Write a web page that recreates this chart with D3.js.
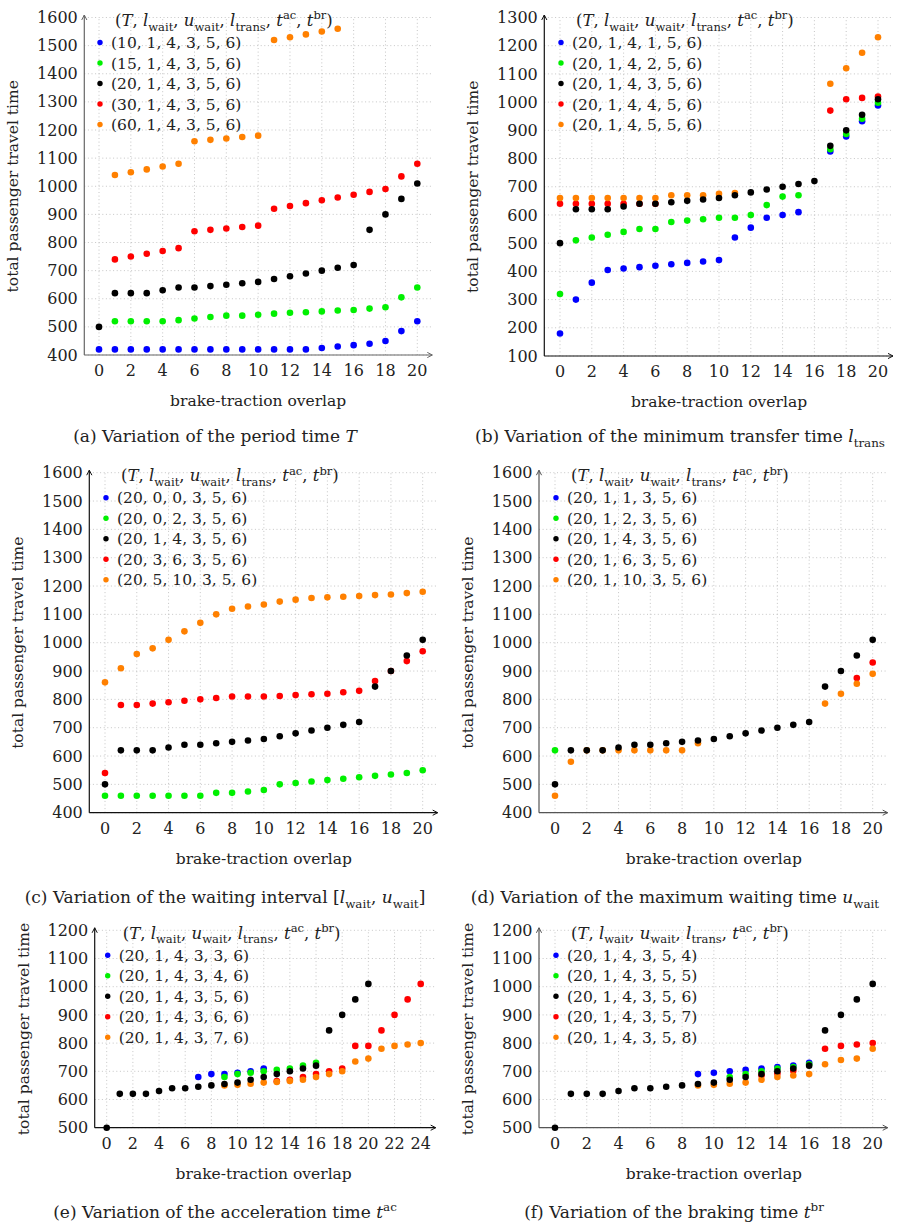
<!DOCTYPE html>
<html>
<head>
<meta charset="utf-8">
<script src="https://cdn.jsdelivr.net/npm/d3@7"></script>
<style>
  body { margin: 0; background: #fff; }
  text { font-family: "DejaVu Serif", "Liberation Serif", serif; fill: #222; }
</style>
</head>
<body>
<div id="chart"></div>
<script>
// x positions (brake-traction overlap)
const overlap20 = [0,1,2,3,4,5,6,7,8,9,10,11,12,13,14,15,16,17,18,19,20];
const overlap24 = [0,1,2,3,4,5,6,7,8,9,10,11,12,13,14,15,16,17,18,19,20,21,22,23,24];

// the reference setting (20,1,4,3,5,6) shows up in every panel
const baseline = [500,620,620,620,630,640,640,645,650,655,660,670,680,690,700,710,720,845,900,955,1010];

// (a) period time T
const aT10 = [420,420,420,420,420,420,420,420,420,420,420,420,420,420,425,430,435,440,450,485,520];
const aT15 = [null,520,520,520,520,524,530,535,540,540,543,547,550,552,555,558,560,565,570,605,640];
const aT30 = [null,740,750,760,770,780,840,845,850,855,860,920,930,940,950,960,970,980,990,1035,1080];
const aT60 = [null,1040,1050,1060,1070,1080,1160,1165,1170,1175,1180,1520,1530,1540,1550,1560,null,null,null,null,null];
const legendA = ["(10, 1, 4, 3, 5, 6)","(15, 1, 4, 3, 5, 6)","(20, 1, 4, 3, 5, 6)","(30, 1, 4, 3, 5, 6)","(60, 1, 4, 3, 5, 6)"];

// (b) minimum transfer time
const bL1 = [180,300,360,405,410,415,420,425,430,435,440,520,555,590,600,610,null,825,878,932,988];
const bL2 = [320,510,520,530,540,550,550,575,580,585,590,590,600,635,665,670,null,833,887,941,998];
const bL4 = [640,640,640,640,640,640,640,null,null,null,null,null,null,null,null,null,null,970,1010,1015,1020];
const bL5 = [660,660,660,660,660,660,660,670,670,670,675,678,null,null,null,null,null,1065,1120,1175,1230];
const legendB = ["(20, 1, 4, 1, 5, 6)","(20, 1, 4, 2, 5, 6)","(20, 1, 4, 3, 5, 6)","(20, 1, 4, 4, 5, 6)","(20, 1, 4, 5, 5, 6)"];

// (c) waiting interval
const cW00 = [];
const cW02 = [460,460,460,460,460,460,460,470,470,475,480,500,505,510,515,520,525,530,535,540,550];
const cW36 = [540,780,780,785,790,795,800,805,810,810,810,812,815,818,820,825,830,865,900,935,970];
const cW510 = [860,910,960,980,1010,1040,1070,1100,1120,1128,1135,1145,1152,1158,1160,1162,1165,1168,1170,1175,1180];
const legendC = ["(20, 0, 0, 3, 5, 6)","(20, 0, 2, 3, 5, 6)","(20, 1, 4, 3, 5, 6)","(20, 3, 6, 3, 5, 6)","(20, 5, 10, 3, 5, 6)"];

// (d) maximum waiting time
const dU1 = [];
const dU2 = [620];
const dU6 = [null,null,null,null,null,null,null,null,null,null,null,null,null,null,null,null,null,null,null,875,930];
const dU10 = [460,580,620,620,620,620,620,620,620,645,null,null,null,null,null,null,null,785,820,855,890];
const legendD = ["(20, 1, 1, 3, 5, 6)","(20, 1, 2, 3, 5, 6)","(20, 1, 4, 3, 5, 6)","(20, 1, 6, 3, 5, 6)","(20, 1, 10, 3, 5, 6)"];

// (e) acceleration time
const eA3 = [null,null,null,null,null,null,null,680,690,690,695,700,710];
const eA4 = [null,null,null,null,null,null,null,null,null,680,690,695,700,705,710,720,730];
const eA6 = [null,null,null,null,null,null,null,null,null,null,null,null,null,665,670,680,690,700,710,790,790,845,900,955,1010];
const eA7 = [null,null,null,null,null,null,null,null,null,650,652,656,660,662,666,670,680,690,700,735,745,780,790,795,800];
const legendE = ["(20, 1, 4, 3, 3, 6)","(20, 1, 4, 3, 4, 6)","(20, 1, 4, 3, 5, 6)","(20, 1, 4, 3, 6, 6)","(20, 1, 4, 3, 7, 6)"];

// (f) braking time
const fB4 = [null,null,null,null,null,null,null,null,null,690,695,700,705,710,715,720,730];
const fB5 = [null,null,null,null,null,null,null,null,null,null,null,680,690,700,710,715,725];
const fB7 = [null,null,null,null,null,null,null,null,null,null,null,null,null,685,692,702,null,780,790,795,800];
const fB8 = [null,null,null,null,null,null,null,null,null,650,652,656,660,670,680,685,690,725,740,745,780];
const legendF = ["(20, 1, 4, 3, 5, 4)","(20, 1, 4, 3, 5, 5)","(20, 1, 4, 3, 5, 6)","(20, 1, 4, 3, 5, 7)","(20, 1, 4, 3, 5, 8)"];

const colors = ["#0000ff", "#00f000", "#000000", "#ff0000", "#ff8000"];

const panels = [
  { xs: overlap20, xr: [99, 417.3], yr: [355, 17.5], yd: [100, 1600], y0: 400, axisX: 84.3, axisColor: "#666",
    series: [aT10, aT15, baseline, aT30, aT60], legend: legendA, capX: 215, capY: 436,
    caption: [["(a) Variation of the period time "], ["T", "i"]] },
  { xs: overlap20, xr: [560, 878], yr: [356, 17.5], yd: [100, 1300], y0: 100, axisX: 544.3, axisColor: "#111",
    series: [bL1, bL2, baseline, bL4, bL5], legend: legendB, capX: 680, capY: 436,
    caption: [["(b) Variation of the minimum transfer time "], ["l", "i"], ["trans", "sub"]] },
  { xs: overlap20, xr: [105, 422.7], yr: [812.7, 472.7], yd: [400, 1600], y0: 400, axisX: 89.3, axisColor: "#111",
    series: [cW00, cW02, baseline, cW36, cW510], legend: legendC, capX: 225, capY: 897,
    caption: [["(c) Variation of the waiting interval ["], ["l", "i"], ["wait", "sub"], [", "], ["u", "i"], ["wait", "sub"], ["]"]] },
  { xs: overlap20, xr: [555, 872.7], yr: [812.7, 472.7], yd: [400, 1600], y0: 400, axisX: 539, axisColor: "#555",
    series: [dU1, dU2, baseline, dU6, dU10], legend: legendD, capX: 675, capY: 897,
    caption: [["(d) Variation of the maximum waiting time "], ["u", "i"], ["wait", "sub"]] },
  { xs: overlap24, xr: [106.7, 420.7], yr: [1127.7, 930.3], yd: [500, 1200], y0: 500, axisX: 94.7, axisColor: "#111",
    series: [eA3, eA4, baseline, eA6, eA7], legend: legendE, capX: 225, capY: 1212,
    caption: [["(e) Variation of the acceleration time "], ["t", "i"], ["ac", "sup"]] },
  { xs: overlap20, xr: [555, 872.7], yr: [1127.7, 930.3], yd: [500, 1200], y0: 500, axisX: 539, axisColor: "#555",
    series: [fB4, fB5, baseline, fB7, fB8], legend: legendF, capX: 674, capY: 1212,
    caption: [["(f) Variation of the braking time "], ["t", "i"], ["br", "sup"]] }
];

const legendTitle = [["("], ["T", "i"], [", "], ["l", "i"], ["wait", "sub"], [", "], ["u", "i"], ["wait", "sub"], [", "],
  ["l", "i"], ["trans", "sub"], [", "], ["t", "i"], ["ac", "sup"], [", "], ["t", "i"], ["br", "sup"], [")"]];

const svg = d3.select("#chart").append("svg")
  .attr("width", 900)
  .attr("height", 1229);

// writes text with italic / sub / superscript pieces
function richText(sel, parts, size) {
  let shift = 0;
  parts.forEach(([s, kind]) => {
    let target = 0, fs = size;
    if (kind === "sub") { target = size * 0.28; fs = size * 0.7; }
    if (kind === "sup") { target = -size * 0.4; fs = size * 0.7; }
    const t = sel.append("tspan").text(s).attr("font-size", fs).attr("dy", target - shift);
    if (kind === "i") t.attr("font-style", "italic");
    shift = target;
  });
}

panels.forEach(p => {
  const xMax = p.xs[p.xs.length - 1];
  const x = d3.scaleLinear().domain([0, xMax]).range(p.xr);
  const y = d3.scaleLinear().domain([p.y0, p.yd[1]]).range(p.yr);
  const g = svg.append("g");
  const xTicks = p.xs.filter(v => v % 2 === 0);
  const yTicks = d3.range(p.y0, p.yd[1] + 1, 100);
  const gridRight = p.xr[1] + 15;
  const top = p.yr[1], bottom = p.yr[0];

  // dotted grid
  g.selectAll(".vgrid").data(xTicks).join("line")
    .attr("x1", d => x(d)).attr("x2", d => x(d))
    .attr("y1", bottom).attr("y2", top)
    .attr("stroke", "#b8b8b8").attr("stroke-width", 0.8).attr("stroke-dasharray", "1,2.6");
  g.selectAll(".hgrid").data(yTicks).join("line")
    .attr("x1", p.axisX).attr("x2", gridRight)
    .attr("y1", d => y(d)).attr("y2", d => y(d))
    .attr("stroke", "#b8b8b8").attr("stroke-width", 0.8).attr("stroke-dasharray", "1,2.6");

  // axes with arrow tips
  const xEnd = gridRight, yEnd = top - 2.5;
  g.append("line").attr("x1", p.axisX).attr("x2", xEnd).attr("y1", bottom).attr("y2", bottom)
    .attr("stroke", p.axisColor).attr("stroke-width", 1.2);
  g.append("line").attr("x1", p.axisX).attr("x2", p.axisX).attr("y1", bottom).attr("y2", yEnd)
    .attr("stroke", p.axisColor).attr("stroke-width", 1.2);
  g.append("path").attr("d", `M${xEnd - 5},${bottom - 2.6} L${xEnd},${bottom} L${xEnd - 5},${bottom + 2.6}`)
    .attr("fill", "none").attr("stroke", p.axisColor).attr("stroke-width", 1);
  g.append("path").attr("d", `M${p.axisX - 2.6},${yEnd + 5} L${p.axisX},${yEnd} L${p.axisX + 2.6},${yEnd + 5}`)
    .attr("fill", "none").attr("stroke", p.axisColor).attr("stroke-width", 1);

  // tick labels
  g.selectAll(".xt").data(xTicks).join("text")
    .attr("x", d => x(d)).attr("y", bottom + 21)
    .attr("text-anchor", "middle").attr("font-size", 16).text(d => d);
  g.selectAll(".yt").data(yTicks).join("text")
    .attr("x", p.axisX - 6.5).attr("y", d => y(d) + 5.6)
    .attr("text-anchor", "end").attr("font-size", 16).text(d => d);

  // axis titles
  g.append("text").attr("x", (p.xr[0] + p.xr[1]) / 2).attr("y", bottom + 51)
    .attr("text-anchor", "middle").attr("font-size", 15.5).text("brake-traction overlap");
  const ylx = p.axisX - 66;
  g.append("text").attr("transform", `translate(${ylx},${(top + bottom) / 2}) rotate(-90)`)
    .attr("text-anchor", "middle").attr("font-size", 15.5).text("total passenger travel time");

  // caption
  const cap = g.append("text").attr("x", p.capX).attr("y", p.capY + 5.8)
    .attr("text-anchor", "middle").attr("font-size", 17);
  richText(cap, p.caption, 17);

  // points - black drawn last so it sits on top like in the reference
  const order = [0, 1, 3, 4, 2];
  order.forEach(si => {
    const pts = p.series[si]
      .map((v, i) => ({ x: p.xs[i], v: v }))
      .filter(d => d.v !== null && d.v !== undefined);
    g.selectAll(null).data(pts).join("circle")
      .attr("cx", d => x(d.x)).attr("cy", d => y(d.v))
      .attr("r", 3.3).attr("fill", colors[si]);
  });

  // legend
  const lx = p.xr[0] + 1;
  const title = g.append("text").attr("x", lx + 15).attr("y", top + 8.5).attr("font-size", 16.5);
  richText(title, legendTitle, 16.5);
  p.legend.forEach((lab, i) => {
    const ly = top + 25 + i * 20.5;
    g.append("circle").attr("cx", lx).attr("cy", ly).attr("r", 2.7).attr("fill", colors[i]);
    g.append("text").attr("x", lx + 11).attr("y", ly + 5.5).attr("font-size", 15.5)
      .text(lab);
  });
});
</script>
</body>
</html>
